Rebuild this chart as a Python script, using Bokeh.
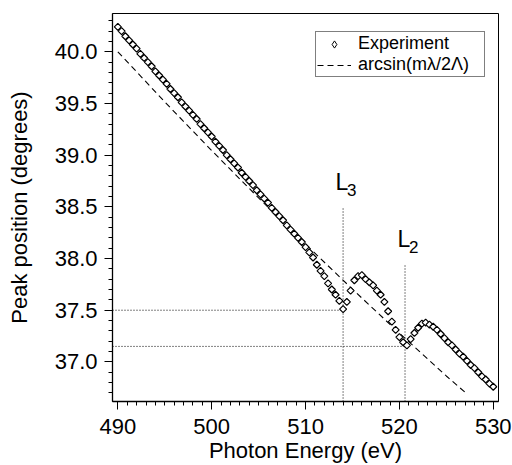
import numpy as np
from bokeh.plotting import figure
from bokeh.models import (ColumnDataSource, Range1d, SingleIntervalTicker,
                          NumeralTickFormatter, Legend, LegendItem, Label)
from bokeh.embed import file_html
from bokeh.resources import INLINE

# ---- data ----
energy = [490.0, 490.4, 490.8, 491.2, 491.6, 492.0, 492.4, 492.8, 493.2, 493.6,
          494.0, 494.4, 494.8, 495.2, 495.6, 496.0, 496.4, 496.8, 497.2, 497.6,
          498.0, 498.4, 498.8, 499.2, 499.6, 500.0, 500.4, 500.8, 501.2, 501.6,
          502.0, 502.4, 502.8, 503.2, 503.6, 504.0, 504.4, 504.8, 505.2, 505.6,
          506.0, 506.4, 506.8, 507.2, 507.6, 508.0, 508.4, 508.8, 509.2, 509.6,
          510.0, 510.4, 510.8, 511.2, 511.6, 512.0, 512.4, 512.8, 513.2, 513.6,
          514.0, 514.4, 514.8, 515.2, 515.6, 516.0, 516.4, 516.8, 517.2, 517.6,
          518.0, 518.4, 518.8, 519.2, 519.6, 520.0, 520.4, 520.8, 521.2, 521.6,
          522.0, 522.4, 522.8, 523.2, 523.6, 524.0, 524.4, 524.8, 525.2, 525.6,
          526.0, 526.4, 526.8, 527.2, 527.6, 528.0, 528.4, 528.8, 529.2, 529.6,
          530.0]
peak_pos = [40.24, 40.20, 40.15, 40.11, 40.07, 40.03, 39.98, 39.94, 39.90, 39.86,
            39.81, 39.77, 39.73, 39.69, 39.64, 39.60, 39.56, 39.51, 39.47, 39.43,
            39.39, 39.35, 39.30, 39.26, 39.22, 39.18, 39.13, 39.09, 39.05, 39.00,
            38.96, 38.92, 38.88, 38.83, 38.79, 38.75, 38.71, 38.66, 38.62, 38.58,
            38.54, 38.49, 38.45, 38.41, 38.37, 38.32, 38.28, 38.24, 38.20, 38.16,
            38.11, 38.06, 38.01, 37.94, 37.88, 37.83, 37.76, 37.70, 37.65, 37.59,
            37.51, 37.58, 37.69, 37.79, 37.83, 37.84, 37.80, 37.77, 37.74, 37.69,
            37.65, 37.58, 37.49, 37.39, 37.31, 37.24, 37.19, 37.16, 37.22, 37.28,
            37.33, 37.37, 37.38, 37.36, 37.34, 37.31, 37.27, 37.23, 37.19, 37.16,
            37.12, 37.08, 37.05, 37.01, 36.97, 36.94, 36.90, 36.86, 36.83, 36.79,
            36.76]

model_energy = [490.0, 495.0, 500.0, 505.0, 510.0, 515.0, 520.0, 525.0, 527.2]
model_angle = [40.00, 39.515, 39.044, 38.586, 38.139, 37.703, 37.278, 36.864, 36.69]

edge_names = ["3", "2"]          # L3, L2
edge_energy = [514.0, 520.6]
edge_min = [37.50, 37.15]
edge_top = [38.50, 37.95]

x_lo, x_hi = 489.43, 530.56
y_lo, y_hi = 36.617, 40.37

FONT = "Liberation Sans"

W, H = 512, 465
BL, BR, BT, BB = 112, 14, 13, 63

p = figure(width=W, height=H, x_range=Range1d(x_lo, x_hi),
           y_range=Range1d(y_lo, y_hi), output_backend="svg",
           toolbar_location=None, min_border_left=BL, min_border_right=BR,
           min_border_top=BT, min_border_bottom=BB)
p.grid.visible = False
p.outline_line_color = "black"
p.outline_line_width = 1
p.background_fill_color = "white"
p.border_fill_color = "white"

# axes
p.xaxis.ticker = SingleIntervalTicker(interval=10, num_minor_ticks=10)
p.yaxis.ticker = SingleIntervalTicker(interval=0.5, num_minor_ticks=5)
p.yaxis.formatter = NumeralTickFormatter(format="0.0")
for ax in (p.xaxis[0], p.yaxis[0]):
    ax.axis_line_color = "black"
    ax.axis_line_width = 1.3
    ax.major_tick_line_color = "black"
    ax.minor_tick_line_color = "black"
    ax.major_tick_in = 0
    ax.minor_tick_in = 0
    ax.major_tick_out = 8
    ax.minor_tick_out = 4
    ax.major_label_text_font = FONT
    ax.major_label_text_font_size = "22px"
    ax.major_label_text_color = "black"
    ax.axis_label_text_font = FONT
    ax.axis_label_text_font_size = "22px"
    ax.axis_label_text_font_style = "normal"
    ax.axis_label_text_color = "black"
p.xaxis.axis_label = "Photon Energy (eV)"
p.yaxis.axis_label = "Peak position (degrees)"
p.xaxis.major_label_standoff = 9
p.xaxis.axis_label_standoff = 1
p.yaxis.major_label_standoff = 7
p.yaxis.axis_label_standoff = 20

# dotted guide lines
src_edges = ColumnDataSource(dict(
    e=edge_energy, m=edge_min, t=edge_top,
    xl=[x_lo] * len(edge_energy), yl=[y_lo] * len(edge_energy)))
p.segment(x0="xl", y0="m", x1="e", y1="m", source=src_edges,
          line_color="black", line_width=1, line_dash="1 2")
p.segment(x0="e", y0="yl", x1="e", y1="t", source=src_edges,
          line_color="black", line_width=1, line_dash="1 2")

# model dashed curve
r_model = p.line(model_energy, model_angle, line_color="black",
                 line_width=1.1, line_dash="6 4")

# experiment: open diamonds (square rotated 45 deg), half-diagonal ~3.5 px
frame_w = W - BL - BR
frame_h = H - BT - BB
hx = 3.5 * (x_hi - x_lo) / frame_w
hy = 3.5 * (y_hi - y_lo) / frame_h
xs = [[e - hx, e, e + hx, e] for e in energy]
ys = [[v, v + hy, v, v - hy] for v in peak_pos]
p.patches(xs, ys, fill_color="white", line_color="black", line_width=1.2)
# legend-only marker renderer (its single point lies outside the visible frame)
r_exp_leg = p.scatter([x_hi + 50], [y_hi + 50], marker="diamond", size=10,
                      fill_color="white", line_color="black", line_width=1)

# edge labels
for name, e, t in zip(edge_names, edge_energy, edge_top):
    p.add_layout(Label(x=e, y=t, text="L", x_offset=-7.5, y_offset=25,
                       text_font=FONT, text_font_size="23px",
                       text_baseline="alphabetic", text_color="black"))
    p.add_layout(Label(x=e, y=t, text=name, x_offset=4, y_offset=17,
                       text_font=FONT, text_font_size="17px",
                       text_baseline="alphabetic", text_color="black"))

legend = Legend(items=[LegendItem(label="Experiment", renderers=[r_exp_leg]),
                       LegendItem(label="arcsin(m\u03bb/2\u039b)", renderers=[r_model])],
                location=(203, 324))
legend.border_line_color = "black"
legend.border_line_width = 1
legend.background_fill_alpha = 1
legend.label_text_font = FONT
legend.label_text_font_size = "18px"
legend.label_text_color = "black"
legend.padding = 1
legend.spacing = 0
legend.margin = 0
legend.glyph_width = 34
legend.glyph_height = 18
legend.label_height = 18
legend.label_width = 125
legend.label_standoff = 7
p.add_layout(legend, "center")

open("out.html", "w").write(file_html(p, INLINE))
